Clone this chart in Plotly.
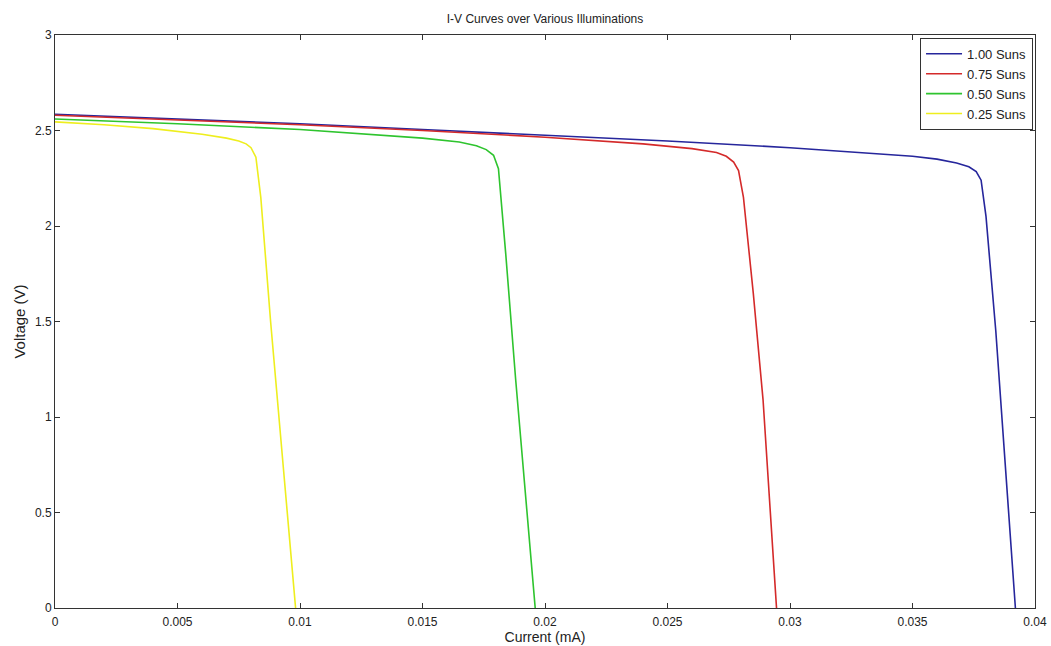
import plotly.graph_objects as go

# Data
labels = ["1.00 Suns", "0.75 Suns", "0.50 Suns", "0.25 Suns"]
colors = ["#26269c", "#d42a2a", "#2ec42e", "#eeee1e"]

i_100 = [0, 0.005, 0.01, 0.015, 0.02, 0.025, 0.03, 0.033, 0.035, 0.036, 0.0368, 0.0373, 0.0376, 0.0378, 0.0380, 0.0384, 0.0388, 0.0392]
v_100 = [2.585, 2.56, 2.535, 2.505, 2.475, 2.445, 2.41, 2.385, 2.365, 2.35, 2.33, 2.31, 2.285, 2.24, 2.05, 1.45, 0.75, 0]

i_075 = [0, 0.005, 0.01, 0.015, 0.02, 0.024, 0.026, 0.027, 0.0274, 0.0277, 0.0279, 0.0281, 0.0285, 0.0289, 0.02945]
v_075 = [2.58, 2.555, 2.53, 2.5, 2.465, 2.43, 2.405, 2.385, 2.365, 2.335, 2.29, 2.15, 1.65, 1.09, 0]

i_050 = [0, 0.005, 0.01, 0.013, 0.015, 0.0165, 0.0172, 0.0176, 0.0179, 0.0181, 0.0184, 0.0188, 0.0192, 0.0196]
v_050 = [2.56, 2.535, 2.505, 2.48, 2.46, 2.44, 2.42, 2.4, 2.37, 2.3, 1.85, 1.2, 0.6, 0]

i_025 = [0, 0.002, 0.004, 0.006, 0.007, 0.0075, 0.0078, 0.0080, 0.0082, 0.0084, 0.0088, 0.0093, 0.00982]
v_025 = [2.545, 2.53, 2.51, 2.48, 2.46, 2.445, 2.43, 2.41, 2.36, 2.15, 1.5, 0.75, 0]

series_i = [i_100, i_075, i_050, i_025]
series_v = [v_100, v_075, v_050, v_025]

x_ticks = [0, 0.005, 0.01, 0.015, 0.02, 0.025, 0.03, 0.035, 0.04]
x_ticktext = ["0", "0.005", "0.01", "0.015", "0.02", "0.025", "0.03", "0.035", "0.04"]
y_ticks = [0, 0.5, 1, 1.5, 2, 2.5, 3]
y_ticktext = ["0", "0.5", "1", "1.5", "2", "2.5", "3"]

fig = go.Figure()
for lab, col, xs, ys in zip(labels, colors, series_i, series_v):
    fig.add_trace(go.Scatter(x=xs, y=ys, mode="lines", name=lab,
                             line=dict(color=col, width=1.6)))

axis_common = dict(showline=True, mirror="ticks", linecolor="#333333", linewidth=1,
                   ticks="inside", ticklen=5, tickcolor="#333333", showgrid=False,
                   zeroline=False, automargin=False,
                   tickfont=dict(size=12, color="#222222"))

fig.update_layout(
    width=1051, height=646,
    margin=dict(l=55, r=16, t=35, b=38),
    paper_bgcolor="white", plot_bgcolor="white",
    font=dict(family="Liberation Sans, Arial, sans-serif", size=12, color="#222222"),
    title=dict(text="I-V Curves over Various Illuminations", x=(55 + 490) / 1051, xanchor="center",
               y=1 - 19 / 646, yanchor="middle", font=dict(size=12)),
    xaxis=dict(range=[0, 0.04], tickvals=x_ticks, ticktext=x_ticktext, ticklabelstandoff=3,
               title=dict(text="Current (mA)", standoff=2, font=dict(size=14)), **axis_common),
    yaxis=dict(range=[0, 3], tickvals=y_ticks, ticktext=y_ticktext,
               title=dict(text="Voltage (V)", standoff=5, font=dict(size=15)), **axis_common),
    legend=dict(x=0.998, y=0.995, xanchor="right", yanchor="top",
                bgcolor="white", bordercolor="#333333", borderwidth=1,
                font=dict(size=13), tracegroupgap=0, itemwidth=36),
    showlegend=True,
)

fig.write_html("out.html", config={"displayModeBar": False},
               post_script="document.body.style.margin='0';document.body.style.overflow='hidden';")
